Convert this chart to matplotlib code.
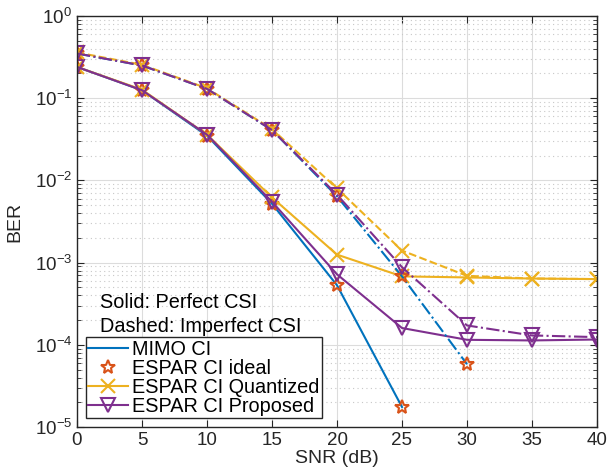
import numpy as np
import matplotlib
matplotlib.use("Agg")
import matplotlib.pyplot as plt
from matplotlib.lines import Line2D

plt.rcParams['font.family'] = ['Liberation Sans', 'DejaVu Sans']

snr = [0, 5, 10, 15, 20, 25, 30, 35, 40]

# Perfect CSI (solid)
mimo_perfect = [0.24, 0.125, 0.035, 0.0052, 0.00053, 1.75e-5]
ideal_perfect = [0.24, 0.125, 0.035, 0.0052, 0.00053, 1.75e-5]
quant_perfect = [0.24, 0.127, 0.036, 0.0062, 0.00125, 0.00068, 0.00066, 0.00064, 0.00063]
prop_perfect = [0.24, 0.125, 0.036, 0.0055, 0.00072, 0.00016, 0.000115, 0.000113, 0.000116]

# Imperfect CSI (dashed)
mimo_imperfect = [0.35, 0.25, 0.13, 0.041, 0.0064, 0.00068, 5.8e-5]
ideal_imperfect = [0.35, 0.25, 0.13, 0.041, 0.0064, 0.00068, 5.8e-5]
quant_imperfect = [0.36, 0.255, 0.132, 0.042, 0.0080, 0.0014, 0.00069, 0.00064, 0.00063]
prop_imperfect = [0.35, 0.25, 0.13, 0.041, 0.0067, 0.00088, 0.000172, 0.00013, 0.000124]

legend_labels = ["MIMO CI", "ESPAR CI ideal", "ESPAR CI Quantized", "ESPAR CI Proposed"]

c_blue = '#0072BD'
c_orange = '#D95319'
c_yellow = '#EDB120'
c_purple = '#7E2F8E'

fig = plt.figure(figsize=(6.13, 4.72), dpi=100)
ax = fig.add_axes([77/613, 1-427/472, (597-77)/613, (427-16)/472])

lw = 1.5
ms = 9.5
# solid
ax.plot(snr[:len(mimo_perfect)], mimo_perfect, '-', color=c_blue, lw=lw)
ax.plot(snr[:len(ideal_perfect)], ideal_perfect, linestyle='none', marker='*', ms=ms + 1,
        mfc='none', mec=c_orange, mew=1.5)
ax.plot(snr, quant_perfect, '-', color=c_yellow, lw=lw, marker='x', ms=ms, mew=1.5)
ax.plot(snr, prop_perfect, '-', color=c_purple, lw=lw, marker='v', ms=ms, mfc='none', mew=1.5)
# dashed
ax.plot(snr[:len(mimo_imperfect)], mimo_imperfect, '-.', color=c_blue, lw=lw)
ax.plot(snr[:len(ideal_imperfect)], ideal_imperfect, linestyle='none', marker='*', ms=ms + 1,
        mfc='none', mec=c_orange, mew=1.5)
ax.plot(snr, quant_imperfect, '--', color=c_yellow, lw=lw, marker='x', ms=ms, mew=1.5)
ax.plot(snr, prop_imperfect, '-.', color=c_purple, lw=lw, marker='v', ms=ms, mfc='none', mew=1.5)

ax.set_yscale('log')
ax.set_xlim(0, 40)
ax.set_ylim(1e-5, 1)
ax.set_xticks(np.arange(0, 41, 5))
ax.set_yticks([1e-5, 1e-4, 1e-3, 1e-2, 1e-1, 1])
ax.grid(True, which='major', color='#dcdcdc', lw=0.8)
ax.grid(True, which='minor', axis='y', color='#c8c8c8', lw=0.8, linestyle=(0, (1, 3)))
ax.set_axisbelow(True)
ax.tick_params(which='both', direction='in', top=True, right=True, labelsize=13.5, colors='#262626')
ax.tick_params(which='major', length=5)
ax.tick_params(which='minor', length=3)
for s in ax.spines.values():
    s.set_color('#262626')
    s.set_linewidth(1.0)
ax.set_xlabel('SNR (dB)', fontsize=14, color='#262626', labelpad=1)
ax.set_ylabel('BER', fontsize=14, color='#262626', labelpad=8)

ax.text(100/613, 1-303/472, 'Solid: Perfect CSI', transform=fig.transFigure,
        fontsize=14.3, va='center', ha='left', color='black')
ax.text(100/613, 1-326/472, 'Dashed: Imperfect CSI', transform=fig.transFigure,
        fontsize=14.3, va='center', ha='left', color='black')

handles = [
    Line2D([], [], color=c_blue, lw=lw),
    Line2D([], [], linestyle='none', marker='*', ms=ms + 1, mfc='none', mec=c_orange, mew=1.5),
    Line2D([], [], color=c_yellow, lw=lw, marker='x', ms=ms, mew=1.5),
    Line2D([], [], color=c_purple, lw=lw, marker='v', ms=ms, mfc='none', mew=1.5),
]
leg = ax.legend(handles, legend_labels, loc='lower left', bbox_to_anchor=((86-77)/520, (427-418)/411),
                fontsize=14.3, handlelength=2.0, handletextpad=0.2, borderpad=0.12,
                labelspacing=0.0, fancybox=False, framealpha=1, edgecolor='#262626', borderaxespad=0)
leg.get_frame().set_linewidth(1.0)

fig.savefig('out.png', dpi=100)
